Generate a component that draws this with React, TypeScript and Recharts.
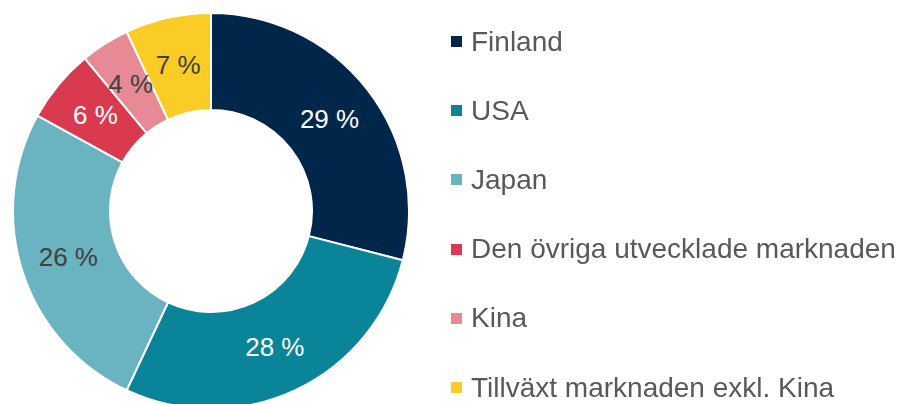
import { Cell, Legend, Pie, PieChart } from 'recharts';

// Fördelning per region, andel i procent
const regioner = [
  'Finland',
  'USA',
  'Japan',
  'Den övriga utvecklade marknaden',
  'Kina',
  'Tillväxt marknaden exkl. Kina',
];
const andelar = [29, 28, 26, 6, 4, 7];
const farger = ['#00264a', '#098498', '#6ab4c1', '#d93a50', '#e88a96', '#fbcc25'];
const etikettFarger = ['#ffffff', '#ffffff', '#404040', '#ffffff', '#404040', '#404040'];

const data = regioner.map((namn, i) => ({ namn, andel: andelar[i] }));

const RAD = Math.PI / 180;

function Etikett(props: any) {
  const { cx, cy, midAngle, index, value } = props;
  const r = 150;
  const x = cx + r * Math.cos(-midAngle * RAD);
  const y = cy + r * Math.sin(-midAngle * RAD);
  return (
    <text
      x={x}
      y={y}
      fill={etikettFarger[index]}
      textAnchor="middle"
      dominantBaseline="central"
      fontSize={26}
      fontFamily="'Liberation Sans', Arial, sans-serif"
    >
      {`${value} %`}
    </text>
  );
}

function Forklaring() {
  return (
    <div style={{ fontFamily: "'Liberation Sans', Arial, sans-serif" }}>
      {regioner.map((namn, i) => (
        <div
          key={namn}
          style={{ height: 69.2, display: 'flex', alignItems: 'center', whiteSpace: 'nowrap' }}
        >
          <span
            style={{ width: 11, height: 11, background: farger[i], marginRight: 9, flex: 'none' }}
          />
          <span style={{ fontSize: 28, color: '#595959' }}>{namn}</span>
        </div>
      ))}
    </div>
  );
}

export default function App() {
  return (
    <div style={{ position: 'fixed', left: 0, top: 0, width: 899, height: 404, background: '#fff' }}>
      <PieChart width={899} height={404} margin={{ top: 0, right: 0, bottom: 0, left: 0 }}>
        <Pie
          data={data}
          dataKey="andel"
          nameKey="namn"
          cx={211}
          cy={211}
          innerRadius={101}
          outerRadius={198}
          startAngle={90}
          endAngle={-270}
          stroke="#ffffff"
          strokeWidth={2}
          label={Etikett}
          labelLine={false}
          isAnimationActive={false}
        >
          {data.map((d, i) => (
            <Cell key={d.namn} fill={farger[i]} />
          ))}
        </Pie>
        <Legend
          content={<Forklaring />}
          wrapperStyle={{ position: 'absolute', left: 451, top: 7, width: 448, bottom: 'auto' }}
        />
      </PieChart>
    </div>
  );
}
